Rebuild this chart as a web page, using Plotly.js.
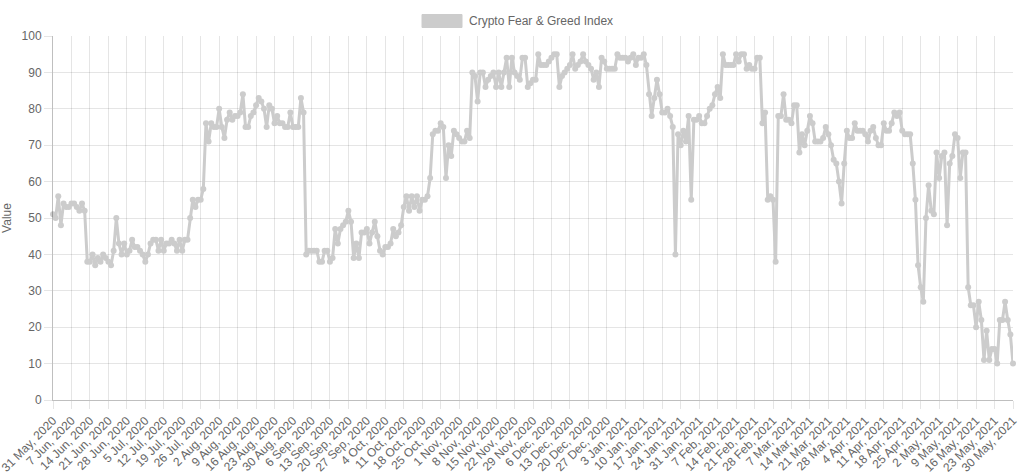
<!DOCTYPE html>
<html>
<head>
<meta charset="utf-8">
<script src="https://cdn.plot.ly/plotly-3.0.1.min.js"></script>
<style>
  html, body { margin: 0; padding: 0; background: #fff; }
  #chart { width: 1024px; height: 476px; }
</style>
</head>
<body>
<div id="chart"></div>
<script>
// Daily Crypto Fear & Greed Index, 31 May 2020 .. 30 May 2021
var startDate = "2020-05-31";
var seriesName = "Crypto Fear & Greed Index";
var yTickValues = [0, 10, 20, 30, 40, 50, 60, 70, 80, 90, 100];
var monthNames = ["Jan","Feb","Mar","Apr","May","Jun","Jul","Aug","Sep","Oct","Nov","Dec"];

var may2020 = [51];
var jun2020 = [50, 56, 48, 54, 53, 53, 54, 54, 53, 52, 54, 52, 38, 38, 40, 37, 39, 38, 40, 39, 38, 37, 41, 50, 43, 40, 43, 40, 41, 44];
var jul2020 = [42, 42, 41, 40, 38, 40, 43, 44, 44, 41, 44, 41, 43, 43, 44, 43, 41, 44, 41, 44, 44, 50, 55, 53, 55, 55, 58, 76, 71, 76, 75];
var aug2020 = [75, 80, 75, 72, 77, 79, 77, 78, 78, 79, 84, 75, 75, 78, 79, 81, 83, 82, 80, 75, 81, 80, 76, 78, 76, 76, 75, 75, 79, 75, 75];
var sep2020 = [75, 83, 79, 40, 41, 41, 41, 41, 38, 38, 41, 41, 38, 39, 47, 43, 47, 48, 49, 52, 49, 39, 43, 39, 46, 46, 47, 43, 46, 49];
var oct2020 = [45, 41, 40, 42, 42, 43, 47, 45, 46, 48, 53, 56, 52, 56, 53, 56, 52, 55, 55, 56, 61, 73, 74, 74, 76, 75, 61, 70, 67, 74, 73];
var nov2020 = [72, 71, 71, 74, 72, 90, 89, 82, 90, 90, 86, 88, 89, 90, 86, 90, 86, 90, 94, 86, 94, 90, 89, 88, 94, 94, 86, 87, 88, 88];
var dec2020 = [95, 92, 92, 92, 93, 94, 95, 95, 86, 89, 90, 91, 92, 95, 91, 92, 93, 95, 93, 92, 91, 88, 90, 86, 94, 93, 91, 91, 91, 91, 95];
var jan2021 = [94, 94, 94, 93, 94, 95, 92, 94, 94, 95, 92, 84, 78, 83, 88, 84, 79, 79, 80, 78, 75, 40, 73, 70, 74, 71, 78, 55, 77, 77, 78];
var feb2021 = [76, 76, 78, 80, 81, 84, 86, 83, 95, 92, 92, 92, 92, 95, 93, 95, 95, 91, 92, 91, 91, 94, 94, 76, 79, 55, 56, 55];
var mar2021 = [38, 78, 78, 84, 77, 77, 76, 81, 81, 68, 73, 70, 74, 78, 76, 71, 71, 71, 72, 75, 73, 70, 66, 65, 60, 54, 65, 74, 72, 72, 76];
var apr2021 = [74, 74, 74, 73, 71, 74, 75, 72, 70, 70, 76, 74, 74, 76, 79, 78, 79, 74, 73, 73, 73, 65, 55, 37, 31, 27, 50, 59, 52, 51];
var may2021 = [68, 61, 67, 68, 48, 65, 67, 73, 72, 61, 68, 68, 31, 26, 26, 20, 27, 22, 11, 19, 11, 14, 14, 10, 22, 22, 27, 22, 18, 10];

var values = [].concat(may2020, jun2020, jul2020, aug2020, sep2020, oct2020, nov2020,
                       dec2020, jan2021, feb2021, mar2021, apr2021, may2021);

// one date per value, one day apart
function isoDay(i) {
  var d = new Date(startDate + "T00:00:00Z");
  d.setUTCDate(d.getUTCDate() + i);
  return d.toISOString().slice(0, 10);
}
var dates = values.map(function (_, i) { return isoDay(i); });
// weekly tick positions (every 7th day)
var weekTicks = dates.filter(function (_, i) { return i % 7 === 0; });
var weekLabels = weekTicks.map(function (d) {
  var p = d.split("-");
  return parseInt(p[2], 10) + " " + monthNames[parseInt(p[1], 10) - 1] + ", " + p[0];
});

var lineColor = "rgb(204,204,204)";
var font = { family: "Liberation Sans, Arial, Helvetica, sans-serif", size: 12, color: "#666" };

var trace = {
  type: "scatter",
  mode: "lines+markers",
  x: dates,
  y: values,
  name: seriesName,
  line: { color: lineColor, width: 3 },
  marker: { color: lineColor, size: 6 },
  cliponaxis: false,
  showlegend: false,
  hoverinfo: "x+y"
};

var layout = {
  width: 1024,
  height: 476,
  margin: { l: 53, r: 11, t: 36, b: 76 },
  paper_bgcolor: "#fff",
  plot_bgcolor: "#fff",
  font: font,
  showlegend: false,
  xaxis: {
    type: "date",
    range: [dates[0], dates[dates.length - 1]],
    autorange: false,
    tickmode: "array",
    tickvals: weekTicks,
    ticktext: weekLabels,
    tickangle: -45,
    ticklabeloverflow: "allow",
    ticks: "outside",
    ticklen: 8,
    tickcolor: "rgba(0,0,0,0.1)",
    showgrid: true,
    gridcolor: "rgba(0,0,0,0.1)",
    gridwidth: 1,
    showline: true,
    linecolor: "rgba(0,0,0,0.25)",
    linewidth: 1,
    zeroline: false,
    tickfont: font,
    fixedrange: true
  },
  yaxis: {
    range: [0, 100],
    autorange: false,
    tickmode: "array",
    tickvals: yTickValues,
    ticklabeloverflow: "allow",
    ticks: "outside",
    ticklen: 8,
    tickcolor: "rgba(0,0,0,0.1)",
    showgrid: true,
    gridcolor: "rgba(0,0,0,0.1)",
    gridwidth: 1,
    showline: true,
    linecolor: "rgba(0,0,0,0.25)",
    linewidth: 1,
    zeroline: false,
    tickfont: font,
    title: { text: "Value", font: font, standoff: 9 },
    fixedrange: true
  },
  shapes: [{
    type: "rect", xref: "paper", yref: "paper",
    x0: (422 - 53) / 960, x1: (462 - 53) / 960,
    y0: 1 + (36 - 27.5) / 364, y1: 1 + (36 - 14.5) / 364,
    fillcolor: "rgba(204,204,204,1)",
    line: { color: "rgba(204,204,204,1)", width: 1 }
  }],
  annotations: [{
    xref: "paper", yref: "paper",
    x: (467 - 53) / 960, y: 1 + (36 - 21) / 364,
    xanchor: "left", yanchor: "middle",
    text: seriesName, showarrow: false, font: font
  }]
};

Plotly.newPlot("chart", [trace], layout, { displayModeBar: false, staticPlot: true });
</script>
</body>
</html>
